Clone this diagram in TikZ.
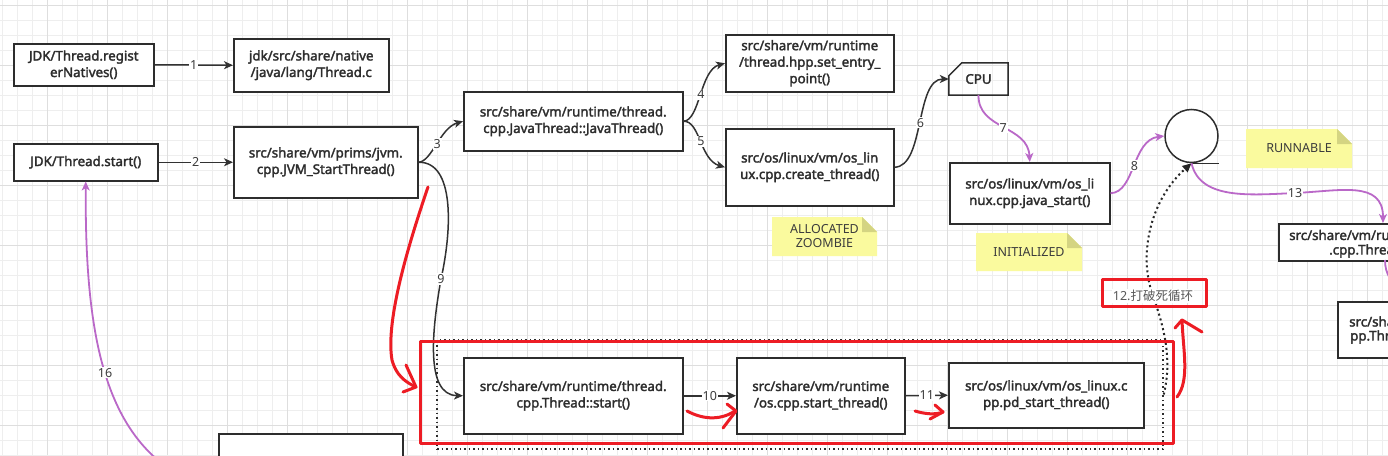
\documentclass[tikz,border=0pt]{standalone}
\usepackage{fontspec}
\setmainfont{Noto Sans}[AutoFakeBold=2.2]
\newfontfamily\cjkfont{Noto Sans CJK SC}
\usetikzlibrary{arrows.meta,calc}
\definecolor{boxc}{RGB}{45,45,45}
\definecolor{linec}{RGB}{50,50,50}
\definecolor{purplec}{RGB}{186,104,200}
\definecolor{redpen}{RGB}{237,28,36}
\definecolor{notefill}{RGB}{250,250,158}
\definecolor{notefold}{RGB}{212,212,130}
\definecolor{gridminor}{RGB}{238,238,238}
\definecolor{gridmajor}{RGB}{222,222,222}
\definecolor{lblc}{RGB}{60,60,60}
\newcommand{\bxfont}{\fontsize{13.3}{16.5}\selectfont\bfseries}
\newcommand{\lbfont}{\fontsize{12.5}{14}\selectfont}
\newcommand{\mynote}[6]{%
  \fill[notefill] (#2,#3) -- (#4-15,#3) -- (#4,#3+15) -- (#4,#5) -- (#2,#5) -- cycle;
  \fill[notefold] (#4-15,#3) -- (#4-15,#3+15) -- (#4,#3+15) -- cycle;
  \node[notetext] (#1) at ({(#2+#4)/2},{(#3+#5)/2}) {#6};}
\tikzset{
  box/.style={draw=boxc, line width=1.5pt, fill=white, align=center, inner sep=0pt,
    font=\bxfont, text=boxc, anchor=north west},
  conn/.style={draw=linec, line width=1.5pt, -{Stealth[length=9pt,width=8pt,inset=2.5pt]}},
  purp/.style={draw=purplec, line width=1.8pt, -{Stealth[length=9pt,width=8pt,inset=2.5pt]}},
  lbl/.style={fill=white, inner sep=1pt, font=\lbfont, text=lblc},
  notetext/.style={align=center, font=\lbfont, text=lblc, inner sep=0pt},
  pen/.style={draw=redpen, line width=3pt, line cap=round, line join=round},
  clipped/.style={font=\bxfont, text=boxc, anchor=west, inner sep=0pt}
}
\begin{document}
\begin{tikzpicture}[x=1pt,y=-1pt]
\useasboundingbox (0,0) rectangle (1388,455);
\clip (0,0) rectangle (1388,455);
\fill[white] (0,0) rectangle (1388,455);
% grid
\foreach \i in {0,...,92} \draw[gridminor, line width=1pt] ({2.7+15*\i},0) -- ({2.7+15*\i},455);
\foreach \j in {0,...,30} \draw[gridminor, line width=1pt] (0,{5+15*\j}) -- (1388,{5+15*\j});
\foreach \i in {0,...,22} \draw[gridmajor, line width=1pt] ({47.7+60*\i},0) -- ({47.7+60*\i},455);
\foreach \j in {0,...,7} \draw[gridmajor, line width=1pt] (0,{5+60*\j}) -- (1388,{5+60*\j});

% notes
\mynote{nalloc}{772}{217}{877}{256}{ALLOCATED\\ZOOMBIE}
\mynote{ninit}{976}{233}{1082}{271}{INITIALIZED}
\mynote{nrun}{1246}{129}{1352}{168}{RUNNABLE}

% boxes
\node[box, minimum width=140, minimum height=42] (A) at (13,43) {JDK/Thread.regist\\erNatives()};
\node[box, minimum width=155, minimum height=53] (B) at (233,38) {jdk/src/share/native\\/java/lang/Thread.c};
\node[box, minimum width=144, minimum height=37] (C) at (13,143) {JDK/Thread.start()};
\node[box, minimum width=184, minimum height=71] (D) at (233,126) {src/share/vm/prims/jvm.\\cpp.JVM\_StartThread()};
\node[box, minimum width=219, minimum height=59] (E) at (463,91) {src/share/vm/runtime/thread.\\cpp.JavaThread::JavaThread()};
\node[box, minimum width=168, minimum height=57] (F) at (725,34) {src/share/vm/runtime\\/thread.hpp.set\_entry\_\\point()};
\node[box, minimum width=168, minimum height=77] (G) at (725,128) {src/os/linux/vm/os\_lin\\ux.cpp.create\_thread()};
\node[box, minimum width=160, minimum height=61] (H) at (949,162) {src/os/linux/vm/os\_li\\nux.cpp.java\_start()};
\node[box, minimum width=219, minimum height=76] (K) at (463,357) {src/share/vm/runtime/thread.\\cpp.Thread::start()};
\node[box, minimum width=168, minimum height=76] (L) at (736,357) {src/share/vm/runtime\\/os.cpp.start\_thread()};
\node[box, minimum width=195, minimum height=65] (M) at (948,362) {src/os/linux/vm/os\_linux.c\\pp.pd\_start\_thread()};
\node[box, minimum width=184, minimum height=70] (N) at (218,433) {};
\node[box, minimum width=240, minimum height=37] (I) at (1278,223) {};
\node[clipped] (Itxt1) at (1289,235) {src/share/vm/runtime};
\node[clipped] (Itxt2) at (1329,251) {.cpp.Thread};
\node[box, minimum width=200, minimum height=56] (J) at (1337,301) {};
\node[clipped] (Jtxt1) at (1349,321.5) {src/share};
\node[clipped] (Jtxt2) at (1350,337) {pp.Thread};

% CPU card
\node[font=\bxfont, text=boxc, minimum width=59, minimum height=32, inner sep=0pt] (cpu) at (978.5,79) {CPU};
\draw[draw=boxc, line width=1.5pt, line join=miter]
  ($(cpu.north west)+(0,13)$) -- ($(cpu.north west)+(13,0)$) -- (cpu.north east)
  -- (cpu.south east) -- (cpu.south west) -- cycle;

% entity circle
\node[circle, draw=boxc, line width=1.5pt, fill=white, minimum size=53, inner sep=0pt] (ent) at (1191.5,136) {};
\draw[draw=boxc, line width=1.5pt] (ent.south) -- (ent.south -| ent.east);

% group container
\node[draw=boxc, line width=1.5pt, dash pattern=on 1.5pt off 3pt, minimum width=726, minimum height=109, inner sep=0pt] (grp) at (800,394.5) {};

\coordinate (Itop) at (1383,223);
\coordinate (s16) at (168,468);

% connectors
\draw[conn] (A.east) -- (B.west) node[lbl, midway] {1};
\draw[conn] (C.east) -- (D.west) node[lbl, midway] {2};
\draw[conn] (D.east) .. controls (432,161.5) and (440,128) .. (E.west) node[lbl, pos=0.5] {3};
\draw[conn] (E.east) .. controls (700,120.5) and (700,70) .. (F.west) node[lbl, pos=0.5] {4};
\draw[conn] (E.east) .. controls (700,120.5) and (700,160) .. (G.west) node[lbl, pos=0.5] {5};
\draw[conn] (G.east) .. controls (925,166.5) and (915,79) .. (cpu.west) node[lbl, pos=0.5] {6};
\draw[purp] (cpu.south) .. controls (978,130) and (1028,125) .. (H.north) node[lbl, pos=0.5] {7};
\draw[purp] (H.east) .. controls (1135,192.5) and (1132,140) .. (ent.west) node[lbl, pos=0.5] {8};
\draw[conn] (D.east) .. controls (455,161.5) and (452,230) .. (441,279) node[lbl] {9}
  .. controls (432,330) and (425,395) .. (K.west);
\draw[conn] (K.east) -- (L.west) node[lbl, midway] {10};
\draw[conn] (L.east) -- (M.west) node[lbl, midway] {11};
\draw[draw=black!85, line width=2pt, dash pattern=on 2pt off 3pt, -{Triangle[length=9pt,width=8pt]}]
  (grp.east) .. controls (1172,360) and (1165,330) .. (1153,296)
  node[lbl, text=lblc!85] (l12) {12.{\cjkfont 打破死循环}}
  .. controls (1138,255) and (1150,200) .. (ent.south);
\draw[purp] (ent.south) .. controls (1200,200) and (1250,195) .. (1295,193) node[lbl] {13}
  .. controls (1340,191) and (1383,180) .. (Itop);
\draw[draw=purplec, line width=1.8pt] (1385,260) .. controls (1385,275) and (1392,282) .. (1400,290);
\draw[purp] (s16) .. controls (100,420) and (85,320) .. (C.south) node[lbl, pos=0.45] {16};

% red annotations
\draw[pen] (420,341) rectangle (1173,443);
\draw[pen] (1102,279) rectangle (1206,306);
\draw[pen] (428,187) .. controls (410,240) and (385,320) .. (392,360) .. controls (396,375) and (405,382) .. (416,387);
\draw[pen] (406,365) -- (416,387) -- (403,392);
\draw[pen] (687,411) .. controls (700,418) and (718,422) .. (735,411);
\draw[pen] (727,404) -- (736,411) -- (723,428);
\draw[pen] (915,411) .. controls (925,414) and (935,415) .. (943,412);
\draw[pen] (935,405) -- (943,412) -- (930,419);
\draw[pen] (1177,397) .. controls (1190,380) and (1183,350) .. (1182,320);
\draw[pen] (1175,328) -- (1182,320) -- (1202,332);
\end{tikzpicture}
\end{document}
